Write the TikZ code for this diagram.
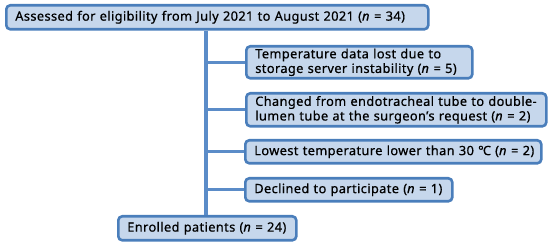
\documentclass[tikz,border=0pt]{standalone}
\usepackage{fontspec}
\setmainfont{Noto Sans}[LetterSpace=3, FakeBold=0.6]
\definecolor{boxfill}{HTML}{C6D7EC}
\definecolor{boxline}{HTML}{4A7EBB}
\definecolor{spineline}{HTML}{5B8CC8}
\begin{document}
\begin{tikzpicture}[x=1pt,y=-1pt,
  box/.style={draw=boxline, line width=2.6pt, fill=boxfill, rounded corners=4pt,
    anchor=north west, align=left, inner xsep=9pt, inner ysep=0pt,
    font=\fontsize{12.8}{14.6}\selectfont},
  link/.style={draw=spineline, line width=3.2pt}]
\useasboundingbox (0,0) rectangle (550,245);
\newcommand{\mkbox}[6]{%
  \node[box, minimum width=#4-#2, minimum height=#5-#3, text width=#4-#2-18pt] (#1) at (#2,#3) {#6};}
\coordinate (spine) at (206,0);
\mkbox{top}{5}{4}{427}{28}{\mbox{Assessed for eligibility from July 2021 to August 2021 (\textit{n} = 34)}}
\mkbox{b1}{245}{45}{471}{77}{\mbox{Temperature data lost due to}\\\mbox{storage server instability (\textit{n} = 5)}}
\mkbox{b2}{245}{92}{545}{125}{\mbox{Changed from endotracheal tube to double-}\\\mbox{lumen tube at the surgeon’s request (\textit{n} = 2)}}
\mkbox{b3}{244}{139}{540}{162}{\mbox{Lowest temperature lower than 30 ℃ (\textit{n} = 2)}}
\mkbox{b4}{244}{177}{451}{200}{\mbox{Declined to participate (\textit{n} = 1)}}
\mkbox{en}{117}{215}{295}{239}{\mbox{Enrolled patients (\textit{n} = 24)}}
\draw[link] (top.south -| spine) -- (en.north -| spine);
\foreach \b in {b1,b2,b3,b4} \draw[link] (\b.west -| spine) -- (\b.west);
\end{tikzpicture}
\end{document}
